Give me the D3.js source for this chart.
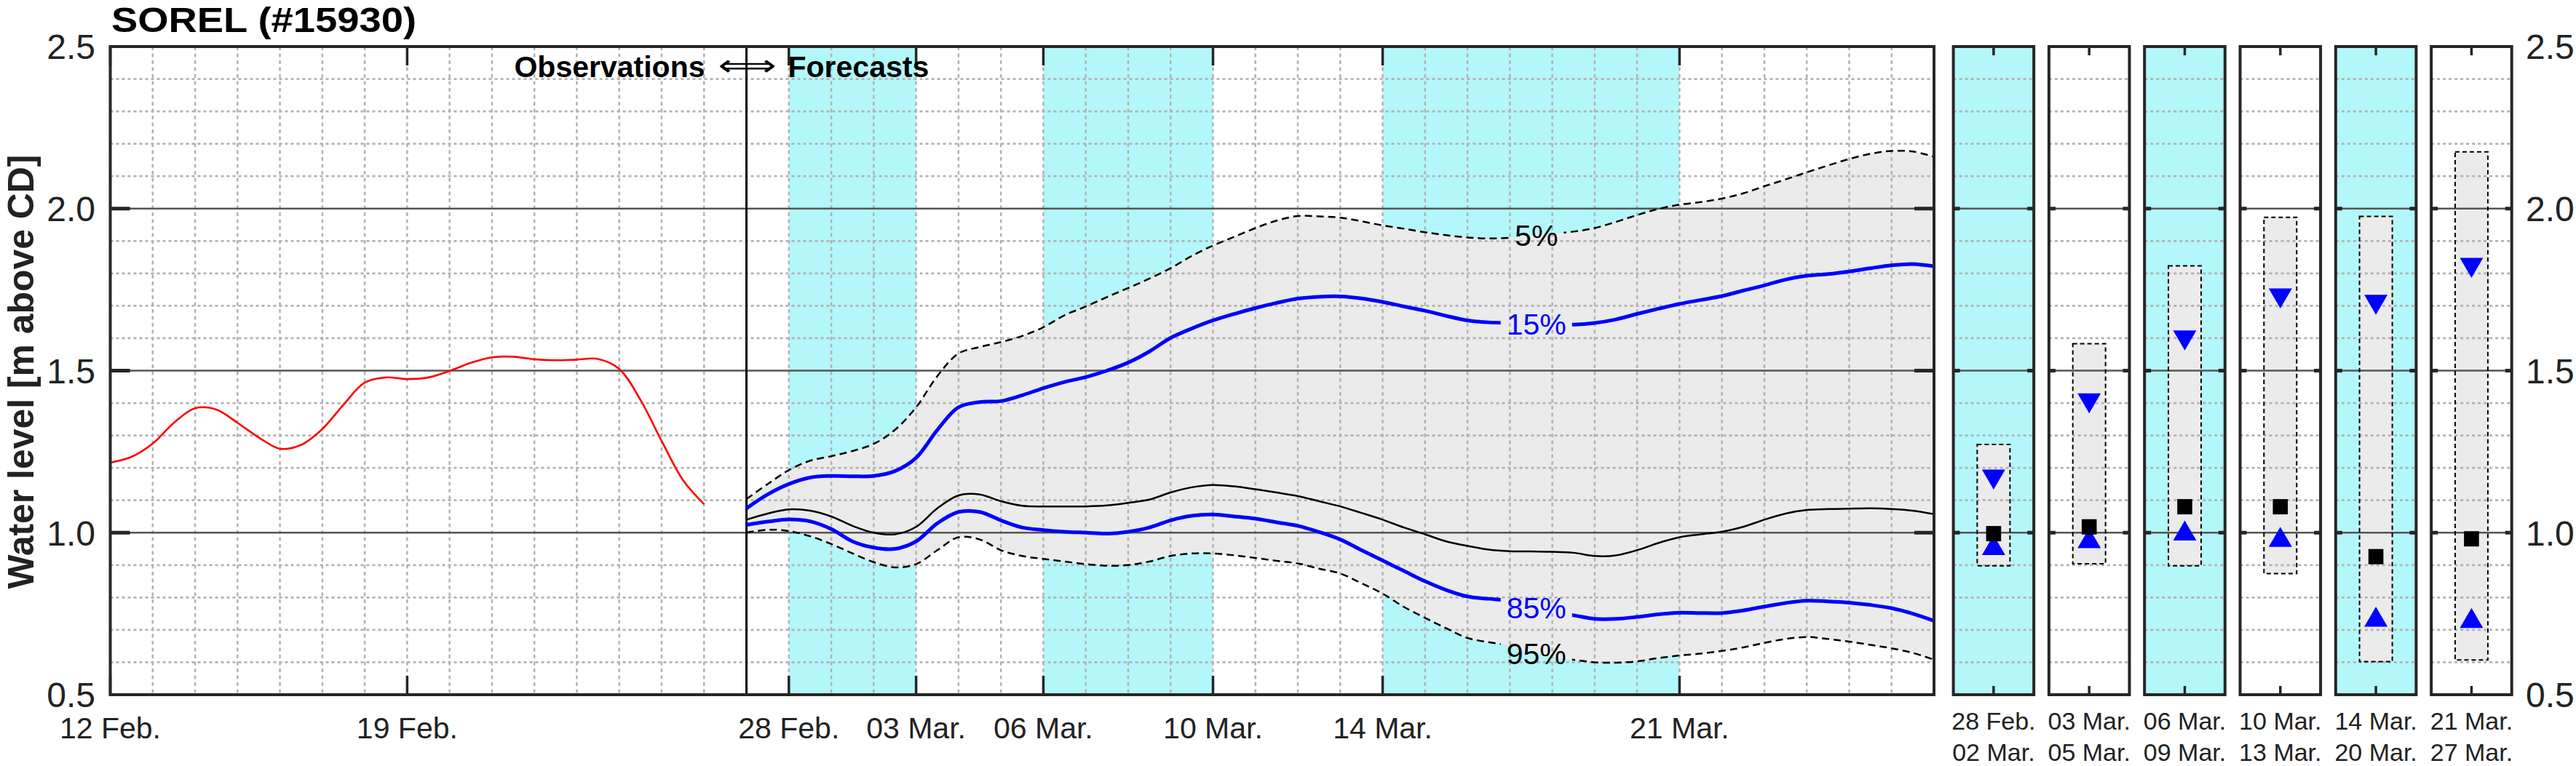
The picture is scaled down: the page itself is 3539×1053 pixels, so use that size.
<!DOCTYPE html>
<html><head><meta charset="utf-8">
<script src="https://cdn.jsdelivr.net/npm/d3@7"></script>
<style>
html,body{margin:0;padding:0;background:#fff;}
svg{display:block;font-family:"Liberation Sans",Arial,Helvetica,sans-serif;}
</style></head><body>
<svg id="chart" width="3539" height="1053"></svg>
<script>
// ---------------- DATA ----------------
const stationTitle = "SOREL (#15930)";
const yAxisTitle = "Water level [m above CD]";
const obsStart = "2023-02-12T00:00:00Z";   // observations, every 12 h
const fcStart  = "2023-02-27T00:00:00Z";   // forecasts, every 12 h
const stepHours = 12;

const observed = [1.216,1.234,1.275,1.339,1.384,1.380,1.339,1.294,1.259,1.271,
  1.320,1.395,1.463,1.479,1.474,1.479,1.499,1.524,1.541,1.543,
  1.535,1.532,1.534,1.536,1.505,1.410,1.283,1.163,1.088];

const q05 = [1.104,1.150,1.193,1.222,1.236,1.252,1.274,1.317,1.387,1.483,
  1.553,1.573,1.588,1.607,1.634,1.671,1.698,1.727,1.755,1.784,
  1.816,1.854,1.886,1.913,1.940,1.963,1.977,1.976,1.972,1.961,
  1.948,1.938,1.927,1.918,1.911,1.908,1.910,1.916,1.923,1.929,
  1.940,1.959,1.980,1.999,2.012,2.020,2.031,2.047,2.069,2.090,
  2.112,2.133,2.153,2.169,2.178,2.176,2.160];
const q15 = [1.075,1.118,1.150,1.170,1.175,1.174,1.175,1.190,1.231,1.317,
  1.387,1.403,1.406,1.424,1.446,1.465,1.480,1.500,1.525,1.559,
  1.601,1.630,1.655,1.675,1.693,1.709,1.722,1.728,1.729,1.723,
  1.712,1.698,1.685,1.669,1.655,1.649,1.647,1.645,1.643,1.642,
  1.647,1.658,1.675,1.691,1.706,1.718,1.730,1.747,1.763,1.781,
  1.793,1.798,1.806,1.816,1.825,1.829,1.822];
const q50 = [1.040,1.059,1.072,1.068,1.050,1.021,1.000,0.995,1.018,1.075,
  1.115,1.118,1.097,1.083,1.081,1.081,1.081,1.084,1.092,1.102,
  1.124,1.140,1.147,1.143,1.134,1.124,1.113,1.097,1.081,1.061,
  1.040,1.016,0.995,0.973,0.959,0.948,0.943,0.942,0.941,0.938,
  0.928,0.930,0.946,0.968,0.986,0.995,1.003,1.018,1.040,1.059,
  1.070,1.073,1.074,1.075,1.073,1.068,1.057];
const q85 = [1.024,1.034,1.041,1.035,1.011,0.973,0.954,0.950,0.973,1.029,
  1.064,1.064,1.038,1.016,1.008,1.003,1.000,0.997,1.003,1.016,
  1.038,1.052,1.056,1.050,1.043,1.032,1.021,1.002,0.979,0.946,
  0.914,0.882,0.850,0.823,0.803,0.796,0.790,0.772,0.755,0.745,
  0.734,0.734,0.740,0.748,0.753,0.752,0.752,0.760,0.772,0.783,
  0.790,0.788,0.784,0.777,0.767,0.750,0.728];
const q95 = [1.000,1.009,1.005,0.989,0.965,0.936,0.909,0.893,0.903,0.946,
  0.986,0.979,0.946,0.928,0.919,0.911,0.903,0.898,0.900,0.911,
  0.928,0.936,0.936,0.930,0.922,0.913,0.905,0.889,0.874,0.844,
  0.812,0.771,0.737,0.705,0.675,0.662,0.651,0.632,0.617,0.608,
  0.600,0.599,0.603,0.613,0.621,0.627,0.635,0.646,0.660,0.672,
  0.678,0.672,0.664,0.654,0.643,0.629,0.608];

const quantileNames = ["5%","15%","85%","95%"];
const quantileLabelTime = "2023-03-17T15:00:00Z";

const xDomain = ["2023-02-12","2023-03-27"];
const tickDates  = ["2023-02-12","2023-02-19","2023-02-28","2023-03-03","2023-03-06","2023-03-10","2023-03-14","2023-03-21"];
const tickLabels = ["12 Feb.","19 Feb.","28 Feb.","03 Mar.","06 Mar.","10 Mar.","14 Mar.","21 Mar."];
const shadedBands = [["2023-02-28","2023-03-03"],["2023-03-06","2023-03-10"],["2023-03-14","2023-03-21"]];
const dividerDate = "2023-02-27";
const yTicks = [0.5,1.0,1.5,2.0,2.5];
const yTickLabels = ["0.5","1.0","1.5","2.0","2.5"];

const periodStart = ["28 Feb.","03 Mar.","06 Mar.","10 Mar.","14 Mar.","21 Mar."];
const periodEnd   = ["02 Mar.","05 Mar.","09 Mar.","13 Mar.","20 Mar.","27 Mar."];
const periodShaded = [true,false,true,false,true,false];
const periodHigh = [1.272,1.583,1.823,1.973,1.976,2.175];   // 5% max
const periodQ15  = [1.164,1.399,1.593,1.723,1.703,1.817];
const periodMed  = [0.997,1.018,1.080,1.080,0.926,0.981];
const periodQ85  = [0.962,0.983,1.007,0.987,0.741,0.737];
const periodLow  = [0.898,0.904,0.898,0.874,0.602,0.607];   // 95% min

// ---------------- STYLE / LAYOUT ----------------
const W = 3539, H = 1053;
const L = 151.5, R = 2657, T = 64, B = 955;
const CYAN = "#b3f7fa", FILLG = "#ebebeb", FRAME = "#262626";
const GRID = "#b2b2b2", MAJ = "#555555", BLUE = "#0000ff";

const svg = d3.select("#chart");
const defs = svg.append("defs");
svg.append("rect").attr("width", W).attr("height", H).attr("fill", "#fff");

const x = d3.scaleUtc().domain(xDomain.map(d => new Date(d))).range([L, R]);
const y = d3.scaleLinear().domain([0.5, 2.5]).range([B, T]);
const stepMs = stepHours * 3600 * 1000;
const obsT0 = +new Date(obsStart), fcT0 = +new Date(fcStart);
const obsData = observed.map((v, i) => ({t: new Date(obsT0 + i * stepMs), v}));
const fcTimes = q05.map((_, i) => new Date(fcT0 + i * stepMs));

defs.append("clipPath").attr("id", "mainClip").append("rect")
  .attr("x", L).attr("y", T).attr("width", R - L).attr("height", B - T);

const main = svg.append("g");
const plot = main.append("g").attr("clip-path", "url(#mainClip)");

// shaded bands
plot.selectAll("rect.band").data(shadedBands).join("rect").attr("class", "band")
  .attr("x", d => x(new Date(d[0]))).attr("width", d => x(new Date(d[1])) - x(new Date(d[0])))
  .attr("y", T).attr("height", B - T).attr("fill", CYAN);

// forecast envelope
const curve = d3.curveCatmullRom.alpha(0.5);
plot.append("path")
  .datum(fcTimes.map((t, i) => ({t, hi: q05[i], lo: q95[i]})))
  .attr("fill", FILLG)
  .attr("d", d3.area().x(d => x(d.t)).y0(d => y(d.lo)).y1(d => y(d.hi)).curve(curve));

// grid
const days = d3.utcDay.range(new Date(xDomain[0]), new Date(xDomain[1]));
plot.selectAll("line.vg").data(days.slice(1)).join("line").attr("class", "vg")
  .attr("x1", d => x(d)).attr("x2", d => x(d)).attr("y1", T).attr("y2", B)
  .attr("stroke", GRID).attr("stroke-width", 2.5).attr("stroke-dasharray", "5,4.5");
const minorY = d3.range(6, 25).map(k => k / 10).filter(v => Math.abs(v * 2 - Math.round(v * 2)) > 1e-6);
plot.selectAll("line.hg").data(minorY).join("line").attr("class", "hg")
  .attr("x1", L).attr("x2", R).attr("y1", d => y(d)).attr("y2", d => y(d))
  .attr("stroke", GRID).attr("stroke-width", 2.8).attr("stroke-dasharray", "4,4");
plot.selectAll("line.mg").data([1.0, 1.5, 2.0]).join("line").attr("class", "mg")
  .attr("x1", L).attr("x2", R).attr("y1", d => y(d)).attr("y2", d => y(d))
  .attr("stroke", MAJ).attr("stroke-width", 2.5);

// divider
plot.append("line").attr("x1", x(new Date(dividerDate))).attr("x2", x(new Date(dividerDate)))
  .attr("y1", T).attr("y2", B).attr("stroke", "#000").attr("stroke-width", 3);

// observed line
plot.append("path").datum(obsData).attr("fill", "none").attr("stroke", "#ff0000").attr("stroke-width", 2.6)
  .attr("d", d3.line().x(d => x(d.t)).y(d => y(d.v)).curve(curve));

// forecast quantile lines with labels
const series = [
  {vals: q05, name: quantileNames[0], color: "#000", width: 2.5, dash: "10,6"},
  {vals: q15, name: quantileNames[1], color: BLUE, width: 5, dash: null},
  {vals: q85, name: quantileNames[2], color: BLUE, width: 5, dash: null},
  {vals: q95, name: quantileNames[3], color: "#000", width: 2.5, dash: "10,6"}
];
const labelT = new Date(quantileLabelTime);
const lineGen = d3.line().x(d => x(d.t)).y(d => y(d.v)).curve(curve);
const labelG = plot.append("g");
series.forEach((s, i) => {
  const interp = d3.scaleUtc().domain(fcTimes).range(s.vals);
  const lx = x(labelT), ly = y(interp(labelT));
  const txt = labelG.append("text").attr("x", lx).attr("y", ly).attr("dy", "0.36em")
    .attr("text-anchor", "middle").attr("font-size", 41).attr("fill", s.color).text(s.name);
  const bb = txt.node().getBBox();
  const m = defs.append("mask").attr("id", "lm" + i).attr("maskUnits", "userSpaceOnUse")
    .attr("x", 0).attr("y", 0).attr("width", W).attr("height", H);
  m.append("rect").attr("x", 0).attr("y", 0).attr("width", W).attr("height", H).attr("fill", "#fff");
  m.append("rect").attr("x", bb.x - 8).attr("y", bb.y - 4).attr("width", bb.width + 16).attr("height", bb.height + 8).attr("fill", "#000");
  plot.insert("path", () => labelG.node()).datum(fcTimes.map((t, k) => ({t, v: s.vals[k]})))
    .attr("fill", "none").attr("stroke", s.color).attr("stroke-width", s.width)
    .attr("stroke-dasharray", s.dash).attr("mask", "url(#lm" + i + ")").attr("d", lineGen);
});
// median
plot.insert("path", () => labelG.node()).datum(fcTimes.map((t, k) => ({t, v: q50[k]})))
  .attr("fill", "none").attr("stroke", "#000").attr("stroke-width", 2.5).attr("d", lineGen);

// ticks
const tks = tickDates.map(d => new Date(d));
main.selectAll("line.xt").data(tks).join("line").attr("class", "xt")
  .attr("x1", d => x(d)).attr("x2", d => x(d)).attr("y1", B).attr("y2", B - 26)
  .attr("stroke", FRAME).attr("stroke-width", 3.5);
main.selectAll("line.xt2").data(tks).join("line").attr("class", "xt2")
  .attr("x1", d => x(d)).attr("x2", d => x(d)).attr("y1", T).attr("y2", T + 26)
  .attr("stroke", FRAME).attr("stroke-width", 3.5);
[[L, 1], [R, -1]].forEach(([px, dir]) => {
  main.selectAll(null).data([1.0, 1.5, 2.0]).join("line")
    .attr("x1", px).attr("x2", px + dir * 27).attr("y1", d => y(d)).attr("y2", d => y(d))
    .attr("stroke", FRAME).attr("stroke-width", 5);
});
main.append("rect").attr("x", L).attr("y", T).attr("width", R - L).attr("height", B - T)
  .attr("fill", "none").attr("stroke", FRAME).attr("stroke-width", 4);

// axis labels
main.selectAll("text.xl").data(tks).join("text").attr("class", "xl")
  .attr("x", d => x(d)).attr("y", 1015).attr("text-anchor", "middle")
  .attr("font-size", 41).attr("fill", "#222").text((d, i) => tickLabels[i]);
main.selectAll("text.yl").data(yTicks).join("text").attr("class", "yl")
  .attr("x", 131).attr("y", d => y(d)).attr("dy", "0.36em").attr("text-anchor", "end")
  .attr("font-size", 48).attr("fill", "#222").text((d, i) => yTickLabels[i]);

// title and y title
svg.append("text").attr("x", 153).attr("y", 44).attr("font-size", 48).attr("font-weight", "bold")
  .attr("textLength", 419).attr("lengthAdjust", "spacingAndGlyphs").text(stationTitle);
svg.append("text").attr("transform", "translate(45.5,511) rotate(-90)").attr("text-anchor", "middle")
  .attr("font-size", 50).attr("font-weight", "bold").attr("fill", "#222")
  .attr("textLength", 597).attr("lengthAdjust", "spacingAndGlyphs").text(yAxisTitle);

// observations / forecasts annotation
const xd = x(new Date(dividerDate));
svg.append("text").attr("x", xd - 57).attr("y", 106).attr("text-anchor", "end")
  .attr("font-size", 41).attr("font-weight", "bold").text("Observations");
svg.append("text").attr("x", xd + 1).attr("y", 104).attr("text-anchor", "middle")
  .attr("font-size", 41).attr("font-family", "DejaVu Sans").attr("textLength", 80)
  .attr("lengthAdjust", "spacingAndGlyphs").text("\u27FA");
svg.append("text").attr("x", xd + 57).attr("y", 106).attr("text-anchor", "start")
  .attr("font-size", 41).attr("font-weight", "bold").text("Forecasts");

// ---------------- PERIOD PANELS ----------------
const px = d3.scaleBand().domain(d3.range(periodStart.length)).range([2683.6, 3450.7])
  .paddingInner(0.158).paddingOuter(0);
const bw = px.bandwidth();
periodStart.forEach((lab, i) => {
  const g = svg.append("g").attr("transform", `translate(${px(i)},0)`);
  const cx = bw / 2;
  g.append("rect").attr("x", 0).attr("y", T).attr("width", bw).attr("height", B - T)
    .attr("fill", periodShaded[i] ? CYAN : "#fff");
  // box
  g.append("rect").attr("x", cx - 22.5).attr("width", 45)
    .attr("y", y(periodHigh[i])).attr("height", y(periodLow[i]) - y(periodHigh[i])).attr("fill", FILLG);
  // grid
  g.selectAll("line.hg").data(minorY).join("line").attr("class", "hg")
    .attr("x1", 0).attr("x2", bw).attr("y1", d => y(d)).attr("y2", d => y(d))
    .attr("stroke", GRID).attr("stroke-width", 2.8).attr("stroke-dasharray", "4,4");
  g.selectAll("line.mg").data([1.0, 1.5, 2.0]).join("line").attr("class", "mg")
    .attr("x1", 0).attr("x2", bw).attr("y1", d => y(d)).attr("y2", d => y(d))
    .attr("stroke", MAJ).attr("stroke-width", 2.5);
  g.append("rect").attr("x", cx - 22.5).attr("width", 45)
    .attr("y", y(periodHigh[i])).attr("height", y(periodLow[i]) - y(periodHigh[i]))
    .attr("fill", "none").attr("stroke", "#000").attr("stroke-width", 2).attr("stroke-dasharray", "6,4");
  // markers
  g.append("path").attr("transform", `translate(${cx},${y(periodQ15[i])})`)
    .attr("d", "M-16,-13.75L16,-13.75L0,13.75Z").attr("fill", BLUE);
  g.append("path").attr("transform", `translate(${cx},${y(periodQ85[i])})`)
    .attr("d", "M0,-13.75L16,13.75L-16,13.75Z").attr("fill", BLUE);
  g.append("rect").attr("x", cx - 10.3).attr("y", y(periodMed[i]) - 10.5).attr("width", 20.6).attr("height", 21)
    .attr("fill", "#000");
  // ticks
  [[0, 1], [bw, -1]].forEach(([sx, dir]) => {
    g.selectAll(null).data([1.0, 1.5, 2.0]).join("line")
      .attr("x1", sx).attr("x2", sx + dir * 9).attr("y1", d => y(d)).attr("y2", d => y(d))
      .attr("stroke", FRAME).attr("stroke-width", 5);
  });
  g.append("line").attr("x1", cx).attr("x2", cx).attr("y1", T).attr("y2", T + 12).attr("stroke", FRAME).attr("stroke-width", 3.5);
  g.append("line").attr("x1", cx).attr("x2", cx).attr("y1", B).attr("y2", B - 12).attr("stroke", FRAME).attr("stroke-width", 3.5);
  g.append("rect").attr("x", 0).attr("y", T).attr("width", bw).attr("height", B - T)
    .attr("fill", "none").attr("stroke", FRAME).attr("stroke-width", 4);
  g.append("text").attr("x", cx).attr("y", 1003).attr("text-anchor", "middle").attr("font-size", 34)
    .attr("fill", "#222").text(lab);
  g.append("text").attr("x", cx).attr("y", 1045.5).attr("text-anchor", "middle").attr("font-size", 34)
    .attr("fill", "#222").text(periodEnd[i]);
});
svg.selectAll("text.yr").data(yTicks).join("text").attr("class", "yr")
  .attr("x", 3470).attr("y", d => y(d)).attr("dy", "0.36em").attr("text-anchor", "start")
  .attr("font-size", 48).attr("fill", "#222").text((d, i) => yTickLabels[i]);
</script>
</body></html>
